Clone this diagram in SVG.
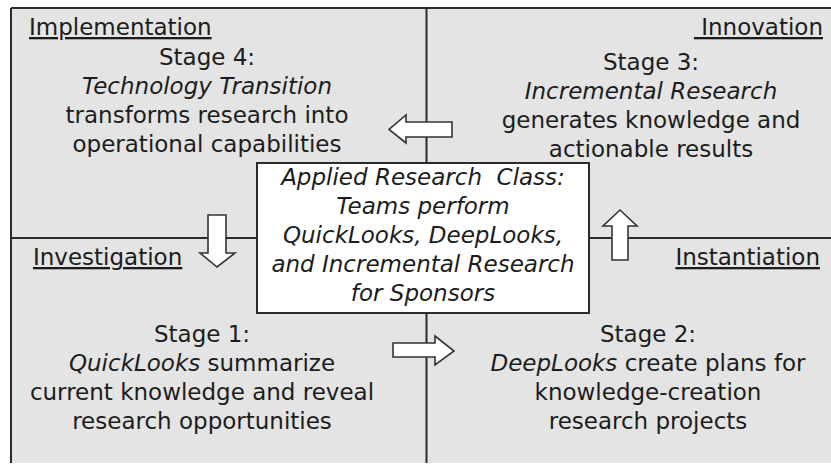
<svg xmlns="http://www.w3.org/2000/svg" width="831" height="464" viewBox="0 0 831 464">
<style>
text{font-family:"DejaVu Sans","Open Sans",sans-serif;font-size:23px;fill:#1c1c1c}
.c{text-anchor:middle}
.i{font-style:italic}
.u{text-decoration:underline}
.line{stroke:#2b2b2b;stroke-width:2;fill:none}
.arrow{fill:#ffffff;stroke:#333333;stroke-width:1.6;stroke-linejoin:miter}
</style>
<rect x="0" y="0" width="831" height="464" fill="#ffffff"/>
<rect x="11" y="8" width="820" height="455" fill="#e4e4e4"/>
<g id="frame">
<path class="line" d="M11,8 H831 M11,8 V463 M426.5,8 V463 M11,238 H831"/>
</g>
<g id="connectors">
<polygon id="arrow-left" class="arrow" points="452,122 452,137 406,137 406,143 389,129.5 406,115 406,122"/>
<polygon id="arrow-down" class="arrow" points="208,215 226,215 226,253 235,253 217,267 200,253 208,253"/>
<polygon id="arrow-up" class="arrow" points="612,260 628,260 628,226 637,226 620,210 603,226 612,226"/>
<polygon id="arrow-right" class="arrow" points="393,343 435,343 435,336 454,351 435,365 435,357 393,357"/>
</g>
<g id="implementation">
<text class="u" x="29" y="35">Implementation</text>
<text class="c" x="207" y="65">Stage 4:</text>
<text class="c i" x="207" y="94">Technology Transition</text>
<text class="c" x="207" y="123">transforms research into</text>
<text class="c" x="207" y="152">operational capabilities</text>
</g>
<g id="innovation">
<text class="u" x="823" y="35" text-anchor="end" xml:space="preserve"> Innovation</text>
<text class="c" x="651" y="70">Stage 3:</text>
<text class="c i" x="651" y="99">Incremental Research</text>
<text class="c" x="651" y="128">generates knowledge and</text>
<text class="c" x="651" y="157">actionable results</text>
</g>
<g id="investigation">
<text class="u" x="33" y="265">Investigation</text>
<text class="c" x="202" y="342">Stage 1:</text>
<text class="c" x="202" y="371"><tspan class="i">QuickLooks</tspan> summarize</text>
<text class="c" x="202" y="400">current knowledge and reveal</text>
<text class="c" x="202" y="429">research opportunities</text>
</g>
<g id="instantiation">
<text class="u" x="820" y="265" text-anchor="end">Instantiation</text>
<text class="c" x="648" y="342">Stage 2:</text>
<text class="c" x="648" y="371"><tspan class="i">DeepLooks</tspan> create plans for</text>
<text class="c" x="648" y="400">knowledge-creation</text>
<text class="c" x="648" y="429">research projects</text>
</g>
<g id="applied-research-class">
<rect x="257" y="163" width="332" height="150" fill="#ffffff" stroke="#2b2b2b" stroke-width="2"/>
<text class="c i" x="423" y="185" xml:space="preserve">Applied Research  Class:</text>
<text class="c i" x="423" y="214">Teams perform</text>
<text class="c i" x="423" y="243">QuickLooks, DeepLooks,</text>
<text class="c i" x="423" y="272">and Incremental Research</text>
<text class="c i" x="423" y="301">for Sponsors</text>
</g>
</svg>
